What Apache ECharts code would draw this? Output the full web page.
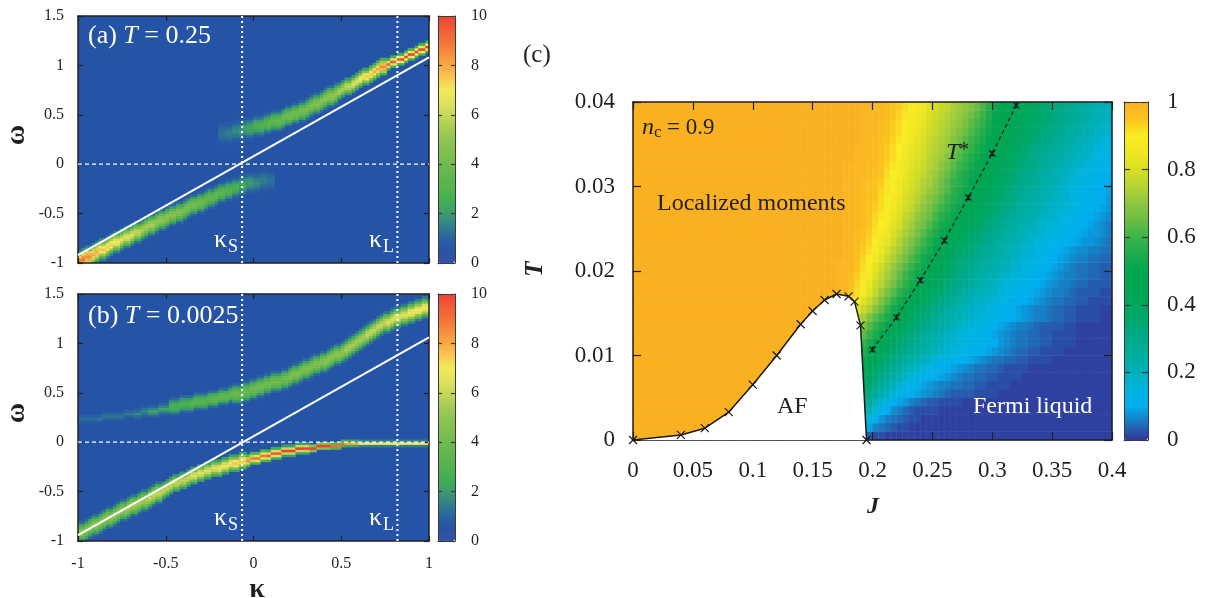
<!DOCTYPE html>
<html><head><meta charset="utf-8">
<style>html,body{margin:0;padding:0;background:#fff}#c{width:1206px;height:598px}</style>
<script src="https://cdn.jsdelivr.net/npm/echarts@6/dist/echarts.min.js"></script>
</head><body><div id="c"></div>
<script>
// ---- half-profiles of a spectral band across omega rows (outermost cell ... ridge cell)
const B08=[.6,.8,1.1,1.2,1.3],B10=[.7,.9,1.2,1.4,1.5],B12=[.7,1,1.3,1.6,1.7],B15=[.7,1.1,1.6,1.9,2],B19=[.8,1.3,1.8,2.2,2.4],
B23=[.8,1.4,2.1,2.6,2.8],B26=[.9,1.5,2.3,2.9,3.1],B28=[.9,1.6,2.5,3.1,3.3],B30=[1,1.7,2.6,3.3,3.5],B32=[1,1.8,2.7,3.4,3.7],
B34=[1,1.9,2.9,3.6,3.9],B36=[1,1.9,3,3.8,4.1],B38=[1.1,2,3.2,4,4.3],B40=[1.1,2.1,3.3,4.2,4.5],B42=[1.1,2.2,3.4,4.4,4.7],
B44=[1.2,2.3,3.6,4.5,4.9],B46=[1.2,2.3,3.7,4.7,5.1],B50=[1.3,2.5,4,5.1,5.5],B55=[1.3,2.7,4.4,5.6,6],B60=[1.4,2.9,4.7,6,6.5],
B65=[1.5,3.1,5.1,6.5,7],B68=[1.5,3.2,5.3,6.8,7.3],B70=[1.6,3.3,5.4,7,7.5],B75=[1.6,3.5,5.8,7.4,8],B80=[1.7,3.7,6.1,7.9,8.5],B85=[1.8,3.9,6.5,8.3,9];
const C23=[1.1,1.9,2.6,2.8],C27=[1.2,2.1,2.9,3.2],C30=[1.2,2.3,3.2,3.5],C50=[1.7,3.5,5,5.5],C55=[1.9,3.8,5.5,6],C60=[2,4.1,5.9,6.5],
C65=[2.1,4.4,6.3,7],C70=[2.2,4.7,6.8,7.5],C75=[2.4,5,7.2,8],C80=[2.5,5.3,7.7,8.5];
const D13=[.8,1.2,1.7],D19=[1,1.6,2.4],D80=[3,6,8.5],D90=[3,6.5,9],D95=[2.5,6.5,9.5],D100=[2,6,10],E90=[2.5,6.5,9.5],E100=[2.5,7,10];
const F09=[.9,1.2],F14=[1,1.4],F80=[2.2,8],F90=[3,9],F100=[4.5,10],G70=[1.5,7];

// ---- panel (a) T = 0.25 : omega row of the ridge in each kappa column; profile per pair of columns
const aLowerRow=[0,1,2,2,3,4,5,5,6,7,8,8,9,10,10,11,12,12,13,14,15,15,16,17,17,18,19,19,20,20,21,22,23,23,24,24,25,26,26,27,28,28,29,29,30,30,31,31,32,32,32,32,33,33,33,33];
const aLowerCell=[B85,B80,B75,B70,B68,B65,B60,B60,B55,B50,B50,B46,B44,B42,B40,B38,B36,B34,B32,B30,B28,B26,B23,B19,B15,B12,B10,B08];
const aUpperFirstCol=40;
const aUpperRow=[52,52,52,52,53,53,53,54,54,54,55,55,55,56,56,57,57,57,58,59,59,60,60,61,61,62,63,64,64,65,66,67,67,68,69,70,71,71,72,73,74,75,75,76,77,78,79,79,80,81,81,82,82,83,84,84,85,86,86,87];
const aUpperCell=[B08,B10,B12,B15,B19,B23,B26,B30,B32,B34,B36,B36,B38,B40,B42,B44,B46,C50,C55,C60,C65,C70,C75,C80,E90,E90,E100,E100,E100,E100];
// ---- panel (b) T = 0.0025
const bLowerRow=[3,3,4,5,6,6,7,8,9,9,10,11,12,12,13,14,14,15,16,16,17,18,19,19,20,21,22,23,23,24,24,25,26,26,27,27,28,28,29,29,29,30,30,31,31,31,32,32,32,33,33,33,34,34,34,35,35,35,36,36,36,36,37,37,37,37,37,37,38,38,38,38,38,38,38,39,39,39,39,39,39,39,39,39,39,39,39,39,39,39,39,39,39,39,39,39,39,39,39,39];
const bLowerCell=[B42,B42,B44,B44,B44,B46,B46,B50,B50,B50,B55,B55,C55,C55,C55,C55,C60,C60,C60,C60,C65,C65,C70,C70,D80,D90,D90,D95,D95,D100,D100,D100,D100,F100,F100,F100,F90,F90,F80,F80,G70,G70,G70,G70,G70,G70,G70,G70,G70,G70];
const bUpperRow=[49,49,49,49,49,49,49,50,50,50,50,50,50,51,51,51,51,51,52,52,52,52,52,53,53,53,54,54,54,55,55,55,55,56,56,56,56,57,57,57,58,58,58,59,59,59,59,60,60,61,61,62,62,63,63,64,64,64,65,65,66,67,67,68,69,69,70,71,71,72,72,73,74,75,75,76,77,78,79,80,81,82,83,84,85,86,87,88,88,89,90,90,91,91,92,92,93,93,94,94];
const bUpperCell=[F09,F09,F09,F14,F14,F14,F14,F14,D13,D13,D19,D19,D19,C23,C23,C23,C27,C27,C27,C30,C30,C30,B34,B34,B34,B36,B36,B36,B36,B36,B40,B40,B40,B40,B40,B44,B44,B44,B50,B50,B50,B55,B55,B55,B60,B60,B60,B65,B65,B65];
// ---- panel (c): percent value for J columns 0.1625 ... 0.3975 (step 0.005), one row per T step from 0.0005 to 0.0395
const cFirstCol=32;
const cRows=[
[100,100,100,100,100,100,5,3,2,2,1],
[100,100,100,100,100,100,12,9,6,5,4,3,2,2,1],
[100,100,100,100,100,100,20,15,11,8,6,5,4,3,2,2,1],
[100,100,100,100,100,100,26,20,16,12,10,7,6,4,3,2,2,2,2,1],
[100,100,100,100,100,100,31,26,21,17,14,11,9,8,6,5,4,3,3,2,2,2,2,1],
[100,100,100,100,100,100,36,31,26,22,19,16,14,11,10,9,8,7,6,5,4,3,3,3,3,2,2,2,2,1],
[100,100,100,100,100,100,40,35,30,26,23,20,17,14,12,11,9,8,7,6,6,5,5,4,4,3,3,2,2,2,2,1],
[100,100,100,100,100,100,44,39,34,30,27,24,21,18,16,14,13,11,10,9,8,7,6,5,5,4,4,3,3,2,2,2,2,1],
[100,100,100,100,100,100,48,43,38,34,31,28,25,22,20,18,16,14,12,11,10,9,8,7,6,5,5,4,4,3,2,2,2,2,1],
[100,100,100,100,100,100,51,46,43,39,35,32,29,26,24,22,20,18,16,14,13,12,11,10,9,8,7,6,5,5,4,4,3,3,2,2,2,2,1],
[100,100,100,100,100,100,55,50,46,42,39,35,32,30,28,26,24,22,20,18,17,15,14,13,12,11,10,9,8,7,6,5,4,4,3,3,2,2,2,2,1],
[100,100,100,100,100,100,59,54,50,46,43,39,36,33,30,28,26,24,22,20,18,17,16,15,14,13,12,11,10,8,7,6,5,5,4,4,3,3,2,2,2,2,1],
[100,100,100,100,100,100,64,59,54,50,46,42,39,36,33,30,27,25,23,21,19,18,16,15,14,13,12,10,9,8,7,6,5,5,4,4,3,3,2,2,2,2,1],
[100,100,100,100,100,100,68,63,58,54,50,46,43,39,37,33,30,28,26,24,22,20,19,17,16,15,13,12,11,9,8,7,6,6,5,4,3,3,3,3,2,2,1],
[100,100,100,95,85,78,73,68,63,59,54,49,46,43,40,36,33,31,28,26,24,22,21,19,18,17,16,15,14,12,11,10,9,8,7,6,6,5,4,4,3,3,2,2,2,2,1,1],
[100,100,100,96,89,83,78,74,69,64,58,53,49,45,43,39,36,33,31,29,26,24,22,20,19,17,17,15,14,12,11,10,9,8,7,6,6,5,4,4,3,3,2,2,2,2,1,1],
[100,100,99,96,92,88,82,78,73,68,63,58,53,49,46,43,40,37,34,32,29,27,25,23,21,19,18,17,16,14,13,12,11,10,9,8,7,6,5,5,4,4,3,3,2,2,2,2],
[100,100,99,98,95,92,87,82,77,72,67,63,58,54,51,47,44,40,37,35,32,30,27,25,23,21,20,19,18,16,15,13,12,11,10,9,8,7,6,6,5,4,3,3,3,3,2,2],
[100,100,99,98,96,93,89,85,79,75,71,67,62,58,54,50,47,43,40,38,35,32,30,28,26,24,22,20,19,17,16,15,14,12,12,10,9,8,7,6,6,5,4,4,3,3,3,3],
[100,100,99,98,97,94,91,87,81,77,73,69,64,60,56,52,49,45,42,40,37,34,31,29,27,25,23,22,21,19,18,16,15,13,13,11,10,9,8,7,6,6,5,5,4,4,3,3],
[100,100,99,98,98,95,92,88,83,79,75,71,67,63,59,55,52,48,45,42,38,36,33,31,29,27,25,24,23,21,20,18,17,15,15,13,12,10,9,8,7,6,5,5,4,4,3,3],
[100,100,100,99,98,96,93,90,86,82,78,74,70,66,62,58,53,50,47,44,41,38,35,33,31,29,27,25,24,22,21,19,18,16,16,14,13,11,10,9,8,7,6,6,5,5,4,4],
[100,100,100,99,98,97,94,92,88,84,80,76,73,69,65,61,57,53,50,46,44,41,38,36,33,31,29,27,26,24,22,20,19,17,17,15,14,13,11,10,9,8,7,7,6,6,5,5],
[100,100,100,99,98,97,95,93,90,86,83,79,75,71,68,64,60,56,52,48,46,43,40,38,35,33,31,29,27,25,24,22,20,19,18,16,16,14,13,12,11,10,9,8,8,7,6,5],
[100,100,100,99,98,97,96,94,91,88,85,81,77,74,71,67,63,59,55,51,49,45,43,40,37,35,33,31,29,27,25,23,22,20,19,18,17,15,15,13,12,11,10,9,8,8,7,6],
[100,100,100,99,99,98,97,95,92,90,87,83,80,75,73,69,66,62,58,54,52,49,46,43,40,38,35,33,31,29,27,25,23,21,21,19,18,16,16,14,13,12,11,10,9,8,7,6],
[100,100,100,99,99,98,97,95,93,91,88,84,81,77,75,71,68,65,61,57,54,51,48,45,42,40,37,35,33,31,29,27,25,23,22,20,19,18,17,15,14,13,12,11,10,9,8,7],
[100,100,100,99,99,98,97,96,94,92,89,85,83,79,77,73,70,67,64,60,57,54,51,47,45,42,39,37,35,33,31,29,26,25,24,22,21,19,18,17,16,15,13,12,11,10,9,8],
[100,100,100,99,99,98,97,96,95,92,90,86,84,80,78,75,72,69,66,63,59,56,53,50,47,44,42,39,37,35,33,31,28,26,25,23,22,20,19,18,17,15,14,12,12,11,10,8],
[100,100,100,99,99,98,97,96,95,93,91,88,85,82,79,77,74,71,69,65,62,58,55,52,49,46,44,41,39,37,34,32,29,27,26,24,23,21,20,18,17,15,14,13,12,11,10,9],
[100,100,100,99,99,98,97,96,95,94,91,89,86,83,80,78,75,73,70,66,63,59,57,54,50,48,45,43,41,38,36,33,31,29,28,26,24,22,21,19,18,16,15,14,13,12,11,10],
[100,100,100,99,99,99,98,97,96,95,92,90,87,84,81,79,77,74,72,68,65,61,58,55,52,50,47,45,42,40,38,35,32,30,29,27,25,23,22,20,19,17,16,15,14,13,12,11],
[100,100,100,99,99,99,98,97,97,95,93,91,88,85,82,80,78,75,73,70,67,63,60,57,54,51,49,46,44,42,40,37,34,32,31,28,27,25,24,22,20,19,18,16,15,14,13,12],
[100,100,100,100,100,99,99,98,97,96,94,92,89,86,83,81,79,76,74,72,69,65,62,59,56,53,50,47,45,43,41,39,36,34,32,30,28,26,25,23,22,20,19,18,17,15,14,13],
[100,100,100,100,100,99,99,98,97,96,94,92,90,87,84,82,80,77,75,73,71,67,64,61,58,55,52,48,46,44,42,40,38,35,33,31,30,28,27,25,24,22,21,19,18,16,15,14],
[100,100,100,100,100,100,99,98,97,96,95,93,91,88,85,83,81,78,76,74,72,69,66,63,60,57,54,50,47,45,43,41,39,37,35,33,32,30,28,26,25,23,22,20,19,17,16,15],
[100,100,100,100,100,100,99,99,98,97,96,94,92,89,86,84,82,79,77,75,73,71,68,65,62,59,56,52,49,46,44,42,40,38,37,35,33,31,30,28,26,24,23,22,21,19,18,17],
[100,100,100,100,100,100,99,99,98,97,96,94,92,90,87,85,83,80,78,76,74,72,70,67,64,61,58,54,50,47,45,43,41,39,38,36,35,33,31,29,28,26,25,23,22,20,19,18],
[100,100,100,100,100,100,99,99,98,98,97,95,93,91,88,86,84,81,79,77,75,73,71,69,66,63,60,55,51,47,46,44,42,41,39,37,36,34,32,30,29,27,26,24,23,21,20,19],
[100,100,100,100,100,100,99,99,98,98,97,95,94,92,89,87,85,82,80,78,77,74,72,70,68,65,62,57,52,49,47,45,43,42,40,38,36,34,32,31,29,28,26,25,23,22,21,20]
];
// ---- overlay curves
const aWhiteLine=[[-1,-0.92],[1,1.08]], bWhiteLine=[[-1,-0.94],[1,1.06]];
const kappaS=-0.065, kappaL=0.82;
const afBoundary=[[0,0],[0.04,0.0006],[0.06,0.0014],[0.08,0.0033],[0.10,0.00655],[0.12,0.01],[0.14,0.0137],[0.15,0.01527],[0.16,0.01657],[0.17,0.01728],[0.18,0.017],[0.185,0.01637],[0.19,0.01357],[0.195,0]];
const tStar=[[0.2,0.0107],[0.22,0.01452],[0.24,0.0189],[0.26,0.0236],[0.28,0.0287],[0.30,0.0339],[0.32,0.0396]];
// ---- colour scales
const specColors=['#3953a4','#2653a5','#2a63a0','#327f8e','#3d9c6e','#3fae55','#55b24f','#62b54f','#6ebb50','#82c050','#8fc553','#a8cc55','#c6d85a','#e0e35a','#f2e95c','#fac74f','#f9a945','#f68c3e','#f37138','#f15b35','#ef4136'];
const fracColors=['#343499','#1c75bc','#00aeef','#00b4e0','#00b0b9','#00ad9f','#00a98a','#00a870','#00a75c','#00a651','#00a651','#1fab4b','#39b54a','#6abd45','#8dc63f','#b5d334','#d7df23','#f0e622','#f9ed24','#fcc31e','#f9b122'];

const FONT='"Liberation Serif",serif', INK='#231f20';
function bandCells(rows,cells,firstCol,out){
  rows.forEach((r,n)=>{const h=cells[n>>1],m=h.length-1;
    h.concat(h.slice(0,m).reverse()).forEach((v,d)=>{const i=r-m+d; if(i>=0&&i<100) out.push([firstCol+n,i,v]);});});
  return out;
}
const aData=bandCells(aUpperRow,aUpperCell,aUpperFirstCol,bandCells(aLowerRow,aLowerCell,0,[]));
const bData=bandCells(bUpperRow,bUpperCell,0,bandCells(bLowerRow,bLowerCell,0,[]));
const cData=[];
cRows.forEach((row,t)=>{for(let k=0;k<80;k++){const v=k<cFirstCol?100:(row[k-cFirstCol]===undefined?1:row[k-cFirstCol]);cData.push([k,t,v/100]);}});
const idx=n=>Array.from({length:n},(_,i)=>i);

const grid=[],xAxis=[],yAxis=[],series=[];
function addGrid(l,t,w,h,bg){grid.push({left:l,top:t,width:w,height:h,show:!!bg,backgroundColor:bg||'transparent',borderWidth:0,containLabel:false,outerBoundsMode:'none'});return grid.length-1;}
function heat(box,nx,ny,data,bg){
  const g=addGrid(box[0],box[1],box[2],box[3],bg);
  xAxis.push({gridIndex:g,type:'category',data:idx(nx),show:false});
  yAxis.push({gridIndex:g,type:'category',data:idx(ny),show:false});
  series.push({type:'heatmap',xAxisIndex:xAxis.length-1,yAxisIndex:yAxis.length-1,data,z:1,progressive:0,silent:true,emphasis:{disabled:true}});
}
function frame(box,xr,yr,o){
  const g=addGrid(box[0],box[1],box[2],box[3]);
  const lab=(show,m,fs)=>({show,margin:m,fontFamily:FONT,fontSize:fs,color:INK,hideOverlap:false});
  const line={show:true,onZero:false,lineStyle:{color:o.frame,width:o.lw}};
  const tick={show:true,inside:true,length:o.tl,lineStyle:{color:o.frame,width:1.2}};
  const noTick={show:false};
  const ax=(r)=>({gridIndex:g,type:'value',min:r[0],max:r[1],interval:r[2],splitLine:{show:false},z:5,silent:true});
  xAxis.push({...ax(xr),position:'bottom',axisLine:line,axisTick:o.noX?noTick:tick,axisLabel:lab(!!o.xLabels,o.xm,o.fs)});
  const xi=xAxis.length-1;
  xAxis.push({...ax(xr),position:'top',axisLine:line,axisTick:o.noX?noTick:tick,axisLabel:{show:false}});
  yAxis.push({...ax(yr),position:'left',axisLine:line,axisTick:tick,axisLabel:lab(!!o.yLabels,o.ym,o.fs)});
  const yi=yAxis.length-1;
  yAxis.push({...ax(yr),position:'right',axisLine:line,axisTick:tick,axisLabel:lab(!!o.rLabels,o.rm,o.fs)});
  return [xi,yi];
}
function line(ax,data,style,extra){
  series.push(Object.assign({type:'line',xAxisIndex:ax[0],yAxisIndex:ax[1],data,symbol:'none',lineStyle:style,z:6,silent:true,animation:false},extra||{}));
}
const boxA=[78,16,351,247],boxB=[78,294,351,247],boxC=[633,102,479,338];
const barA=[438,16,17,247],barB=[438,294,17,247],barC=[1124,102,24,338];
heat(boxA,100,100,aData,'#2553a5');
heat(boxB,100,100,bData,'#2553a5');
heat(boxC,80,40,cData,null);

const SPEC={frame:'#231f20',lw:1.5,tl:5,fs:16,xm:15,ym:14};
const axA=frame(boxA,[-1,1,0.5],[-1,1.5,0.5],{...SPEC,yLabels:true});
const axB=frame(boxB,[-1,1,0.5],[-1,1.5,0.5],{...SPEC,yLabels:true,xLabels:true});
const axC=frame(boxC,[0,0.4,0.05],[0,0.04,0.01],{frame:'#231f20',lw:1.5,tl:8,fs:23,xm:19,ym:18,xLabels:true,yLabels:true});
frame(barA,[0,1,1],[0,10,2],{frame:'#3b3b3b',lw:1,tl:4,fs:16,rm:16,noX:true,rLabels:true});
frame(barB,[0,1,1],[0,10,2],{frame:'#3b3b3b',lw:1,tl:4,fs:16,rm:16,noX:true,rLabels:true});
frame(barC,[0,1,1],[0,1,0.2],{frame:'#3b3b3b',lw:1,tl:6,fs:23,rm:19,noX:true,rLabels:true});

const dotted={color:'#fff',width:2,type:[2,3]}, dashed={color:'#fff',width:1.2,type:[4,3]}, solid={color:'#fff',width:2};
[[axA,aWhiteLine],[axB,bWhiteLine]].forEach(([ax,wl])=>{
  line(ax,[[-1,0],[1,0]],dashed);
  line(ax,[[kappaS,-1],[kappaS,1.5]],dotted);
  line(ax,[[kappaL,-1],[kappaL,1.5]],dotted);
  line(ax,wl,solid);
});
const X='path://M0 0L10 10M10 0L0 10', STAR='path://M0 0L10 10M10 0L0 10M5 0L5 10';
line(axC,afBoundary,{color:'#1a1a1a',width:1.5},{areaStyle:{color:'#fff',opacity:1},symbol:X,symbolSize:8,showSymbol:true,showAllSymbol:true,itemStyle:{color:'none',borderColor:'#1a1a1a',borderWidth:1.2},z:6});
line(axC,tStar,{color:'#1a1a1a',width:1.2,type:[4,3]},{symbol:STAR,symbolSize:6,showSymbol:true,showAllSymbol:true,itemStyle:{color:'none',borderColor:'#1a1a1a',borderWidth:1.2},z:7});

function vm(si,box,max,colors){return {type:'continuous',seriesIndex:si,dimension:2,min:0,max,inRange:{color:colors},left:box[0],top:box[1],itemWidth:box[2],itemHeight:box[3],padding:0,calculable:false,hoverLink:false,realtime:false,text:null,orient:'vertical',z:4};}

function txt(x,y,s,fs,fill,o){o=o||{};return {type:'text',x,y,rotation:o.rot||0,z:50,silent:true,style:{text:s,fill,font:(o.it?'italic ':'')+(o.b?'bold ':'')+fs+'px '+FONT,textAlign:o.al||'left',textVerticalAlign:'middle'}};}
function richTitle(x,y,a,b,c){return {type:'text',x,y,z:50,silent:true,style:{text:'{r|'+a+'}{i|'+b+'}{r|'+c+'}',textVerticalAlign:'middle',textAlign:'left',fill:'#fff',rich:{r:{fontFamily:FONT,fontSize:26,fill:'#fff',color:'#fff'},i:{fontFamily:FONT,fontStyle:'italic',fontSize:26,fill:'#fff',color:'#fff'}}}};}
const elements=[
 richTitle(88,36,'(a) ','T',' = 0.25'),
 richTitle(88,316,'(b) ','T',' = 0.0025'),
 txt(523,55,'(c)',25,INK),
 txt(214,240,'κ',26,'#fff'),txt(228,247,'S',18,'#fff'),
 txt(369,240,'κ',26,'#fff'),txt(383,247,'L',18,'#fff'),
 txt(214,518,'κ',26,'#fff'),txt(228,525,'S',18,'#fff'),
 txt(369,518,'κ',26,'#fff'),txt(383,525,'L',18,'#fff'),
 txt(17,135,'ω',28,INK,{rot:Math.PI/2,al:'center',b:true}),
 txt(17,413,'ω',28,INK,{rot:Math.PI/2,al:'center',b:true}),
 txt(257,590,'κ',28,INK,{al:'center',b:true}),
 txt(536,269,'T',25,INK,{rot:Math.PI/2,al:'center',it:true,b:true}),
 txt(873,507,'J',24,INK,{al:'center',it:true,b:true}),
 txt(642,128,'n',24,INK,{it:true}),txt(654,133,'c',17,INK),txt(667,128,'= 0.9',23,INK),
 txt(657,204,'Localized moments',24,INK),
 txt(946,153,'T',24,INK,{it:true}),txt(959,151,'*',20,INK),
 txt(777,407,'AF',24,INK),
 txt(973,407,'Fermi liquid',24,'#fff')
];
const chart=echarts.init(document.getElementById('c'),null,{renderer:'canvas'});
chart.setOption({animation:false,backgroundColor:'#fff',grid,xAxis,yAxis,series,
 visualMap:[vm(0,barA,10,specColors),vm(1,barB,10,specColors),vm(2,barC,1,fracColors)],
 graphic:{elements}});
</script></body></html>
